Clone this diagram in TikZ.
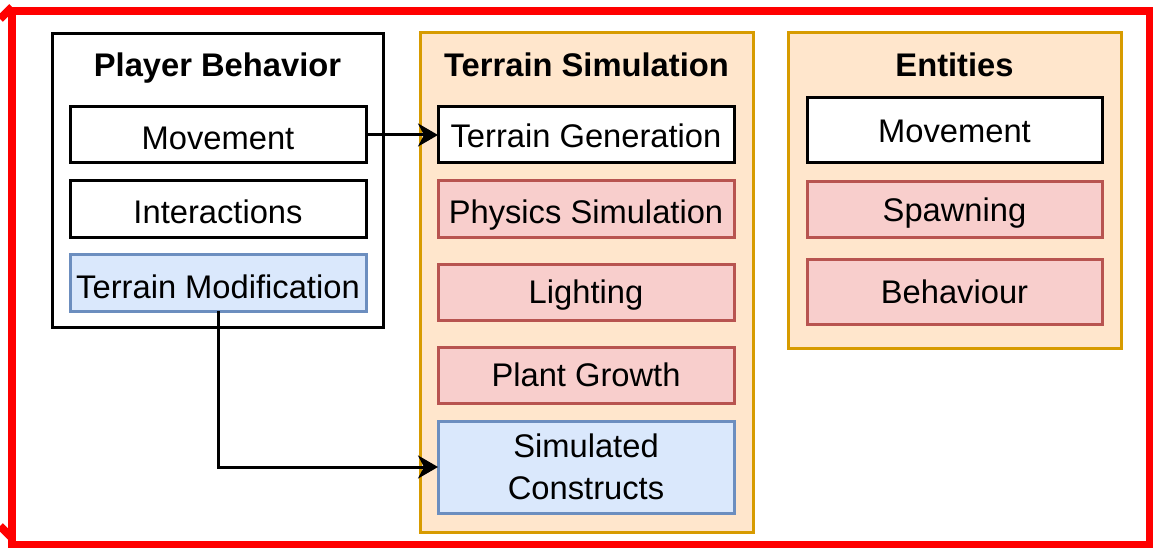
\documentclass[tikz,border=0pt]{standalone}
\usepackage{fontspec}
\setmainfont{Liberation Sans}
\usetikzlibrary{arrows.meta}
\definecolor{orfill}{HTML}{FFE6CC}
\definecolor{ordraw}{HTML}{D79B00}
\definecolor{rdfill}{HTML}{F8CECC}
\definecolor{rddraw}{HTML}{B85450}
\definecolor{blfill}{HTML}{DAE8FC}
\definecolor{bldraw}{HTML}{6C8EBF}
\definecolor{frame}{HTML}{FF0000}
\tikzset{
  base/.style={rectangle, inner sep=0pt, outer sep=0pt, line width=3pt, align=center,
    font=\fontsize{32.7}{42}\selectfont},
  container/.style={base, draw=ordraw, fill=orfill},
  blackcont/.style={base, draw=black, fill=white},
  tht/.style={text height=#1, text depth=0pt},
  tht/.default=23.4pt,
  plainbox/.style={base, draw=black, fill=white, minimum width=296pt, minimum height=56pt},
  redbox/.style={base, draw=rddraw, fill=rdfill, minimum width=296pt, minimum height=56pt},
  bluebox/.style={base, draw=bldraw, fill=blfill, minimum width=296pt, minimum height=57pt},
  title/.style={inner sep=0pt, anchor=base, font=\fontsize{32.7}{40}\selectfont\bfseries},
  conn/.style={line width=3pt, -{Stealth[length=20pt, width=23pt, inset=6pt]}},
  redline/.style={draw=frame, line width=8pt}
}
\begin{document}
\begin{tikzpicture}[x=1pt, y=-1pt]
\useasboundingbox (0,0) rectangle (1153,548);
\begin{scope}
\clip (0,0) rectangle (1153,548);
\draw[redline] (12,11) rectangle (1149.5,545);
\draw[redline] (0,19) -- (12,7);
\draw[redline] (0,526) -- (12,538);
\end{scope}

% Player Behavior
\node[blackcont, minimum width=331pt, minimum height=293pt] (pb) at (217.5,180.5) {};
\node[title] (pbt) at (217.5,76.5) {Player Behavior};
\node[plainbox, tht=29.4pt] (pbMove) at (218,135) {Movement};
\node[plainbox, tht=29.4pt] (pbInter) at (218,209) {Interactions};
\node[bluebox, tht=31.4pt] (pbMod) at (218,282.5) {Terrain Modification};

% Terrain Simulation
\node[container, minimum width=333pt, minimum height=499pt] (ts) at (586.5,282.5) {};
\node[title] (tst) at (586.5,76.5) {Terrain Simulation};
\node[plainbox, tht=25.4pt] (tsGen) at (586,135) {Terrain Generation};
\node[redbox, tht=28.8pt] (tsPhys) at (586,209) {Physics Simulation};
\node[redbox, tht] (tsLight) at (586,292) {Lighting};
\node[redbox, tht] (tsPlant) at (586,375) {Plant Growth};
\node[bluebox, minimum height=92pt] (tsSim) at (586,467) {Simulated\\Constructs};

% Entities
\node[container, minimum width=333pt, minimum height=315pt] (en) at (954.5,190.5) {};
\node[title] (ent) at (954.5,76.5) {Entities};
\node[plainbox, tht, minimum width=295pt, minimum height=65pt] (enMove) at (954.5,130.5) {Movement};
\node[redbox, tht, minimum width=295pt, minimum height=55pt] (enSpawn) at (954.5,209.5) {Spawning};
\node[redbox, tht, minimum width=295pt, minimum height=65pt] (enBeh) at (954.5,291.5) {Behaviour};

% connectors
\draw[conn] (pbMove.east) -- (tsGen.west);
\draw[conn] (pbMod.south) |- (tsSim.west);
\end{tikzpicture}
\end{document}
